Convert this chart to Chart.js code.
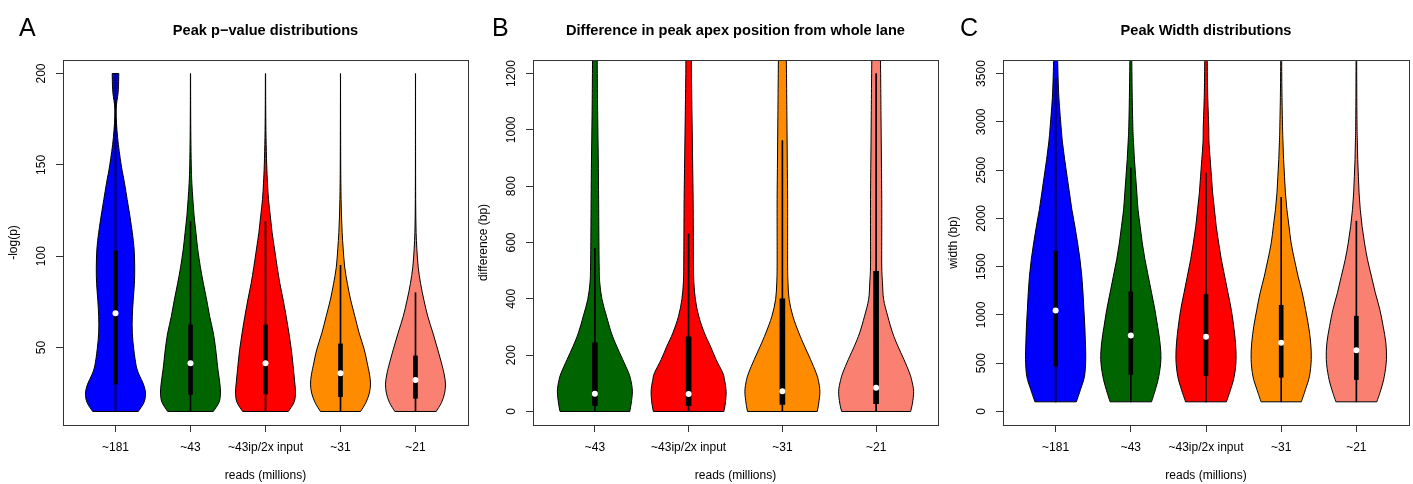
<!DOCTYPE html>
<html lang="en">
<head>
<meta charset="UTF-8">
<title>Peak distributions</title>
<script src="https://cdn.jsdelivr.net/npm/chart.js"></script>
<style>
  body { margin: 0; background: #fff; }
  canvas { position: absolute; top: 0; }
</style>
</head>
<body>
<canvas id="chartA" width="472" height="484" style="left:0px"></canvas>
<canvas id="chartB" width="472" height="484" style="left:470px"></canvas>
<canvas id="chartC" width="473" height="484" style="left:940px"></canvas>

<script>
// ---- panel A: peak p-value ----
var catsA = ['~181', '~43', '~43ip/2x input', '~31', '~21'];
var levelsA = [15, 20, 25, 30, 35, 40, 49, 58, 67, 76, 85, 94, 104, 113, 122, 131, 140, 150, 165, 180, 190, 200];
var violinsA = [
  [0.76, 0.95, 1.0, 0.93, 0.79, 0.69, 0.61, 0.56, 0.56, 0.59, 0.63, 0.64, 0.62, 0.56, 0.48, 0.39, 0.30, 0.19, 0.07, 0.02, 0.09, 0.11],
  [0.76, 0.95, 1.0, 0.98, 0.94, 0.90, 0.84, 0.76, 0.64, 0.54, 0.43, 0.33, 0.24, 0.18, 0.12, 0.08, 0.045, 0.025, 0.012, 0.006, 0.004, 0.003],
  [0.76, 0.95, 1.0, 0.98, 0.95, 0.92, 0.86, 0.78, 0.69, 0.59, 0.48, 0.39, 0.30, 0.22, 0.16, 0.10, 0.067, 0.04, 0.018, 0.008, 0.005, 0.004],
  [0.67, 0.85, 0.96, 1.0, 0.97, 0.91, 0.79, 0.62, 0.48, 0.34, 0.23, 0.14, 0.09, 0.055, 0.033, 0.02, 0.012, 0.008, 0.005, 0.003, 0.002, 0.002],
  [0.69, 0.87, 0.97, 1.0, 0.96, 0.89, 0.74, 0.58, 0.41, 0.28, 0.17, 0.09, 0.045, 0.02, 0.01, 0.006, 0.004, 0.003, 0.002, 0.002, 0.002, 0.002]
];
var q1A = [30, 24.4, 24.6, 23.1, 22.2];
var medA = [68.8, 41.4, 41.4, 35.9, 32.2];
var q3A = [103, 62.4, 62.4, 52, 45.4];
var loA = [15, 15, 15, 15, 15];
var hiA = [200, 119, 119, 95, 80];
var yTicksA = [50, 100, 150, 200];
var yLimA = [15, 200];

// ---- panel B: apex position difference ----
var catsB = ['~43', '~43ip/2x input', '~31', '~21'];
var levelsB = [0, 30, 72, 110, 137, 185, 232, 279, 338, 398, 457, 516, 634, 753, 900, 1050, 1200, 1300];
var violinsB = [
  [0.93, 0.97, 1.0, 0.96, 0.90, 0.74, 0.58, 0.44, 0.31, 0.19, 0.13, 0.115, 0.106, 0.10, 0.09, 0.075, 0.065, 0.06],
  [0.94, 0.98, 1.0, 0.96, 0.91, 0.73, 0.58, 0.42, 0.27, 0.18, 0.14, 0.13, 0.125, 0.12, 0.105, 0.09, 0.075, 0.07],
  [0.93, 0.97, 1.0, 0.96, 0.90, 0.75, 0.59, 0.44, 0.28, 0.18, 0.15, 0.14, 0.14, 0.14, 0.13, 0.12, 0.11, 0.10],
  [0.92, 0.97, 1.0, 0.95, 0.89, 0.74, 0.58, 0.44, 0.31, 0.20, 0.17, 0.15, 0.15, 0.15, 0.14, 0.13, 0.12, 0.11]
];
var q1B = [21, 21, 25, 28];
var medB = [63, 62, 72, 84];
var q3B = [244, 265, 400, 498];
var loB = [0, 0, 0, 0];
var hiB = [579, 631, 962, 1200];
var yTicksB = [0, 200, 400, 600, 800, 1000, 1200];
var yLimB = [0, 1200];

// ---- panel C: peak width ----
var catsC = ['~181', '~43', '~43ip/2x input', '~31', '~21'];
var levelsC = [100, 230, 365, 538, 711, 883, 1056, 1229, 1401, 1574, 1746, 1918, 2091, 2264, 2436, 2609, 2782, 2954, 3299, 3700];
var violinsC = [
  [0.69, 0.83, 0.96, 1.0, 0.99, 0.97, 0.94, 0.91, 0.87, 0.81, 0.73, 0.64, 0.54, 0.46, 0.38, 0.30, 0.23, 0.18, 0.10, 0.062],
  [0.69, 0.82, 0.93, 1.0, 0.97, 0.89, 0.80, 0.69, 0.58, 0.47, 0.38, 0.31, 0.24, 0.20, 0.16, 0.12, 0.09, 0.067, 0.045, 0.03],
  [0.68, 0.82, 0.94, 1.0, 0.98, 0.92, 0.84, 0.73, 0.62, 0.51, 0.42, 0.34, 0.28, 0.22, 0.18, 0.14, 0.10, 0.09, 0.055, 0.04],
  [0.67, 0.81, 0.94, 1.0, 0.98, 0.91, 0.81, 0.70, 0.56, 0.44, 0.33, 0.26, 0.19, 0.14, 0.11, 0.08, 0.06, 0.045, 0.025, 0.014],
  [0.68, 0.82, 0.93, 1.0, 0.98, 0.89, 0.78, 0.63, 0.50, 0.37, 0.27, 0.19, 0.13, 0.09, 0.067, 0.045, 0.033, 0.022, 0.014, 0.01]
];
var q1C = [469, 383, 373, 355, 331];
var medC = [1046, 787, 773, 711, 635];
var q3C = [1659, 1239, 1211, 1100, 987];
var loC = [100, 100, 100, 100, 100];
var hiC = [3444, 2523, 2468, 2217, 1971];
var yTicksC = [0, 500, 1000, 1500, 2000, 2500, 3000, 3500];
var yLimC = [0, 3500];

var colors5 = ['#0000FF', '#006400', '#FF0000', '#FF8C00', '#FA8072'];
var colors4 = ['#006400', '#FF0000', '#FF8C00', '#FA8072'];

Chart.defaults.font.family = '"Liberation Sans", Arial, Helvetica, sans-serif';
Chart.defaults.color = '#000';

// catmull-rom through the outline points
function smooth(ctx, pts) {
  for (var k = 0; k < pts.length - 1; k++) {
    var p0 = pts[k - 1] || pts[k], p1 = pts[k], p2 = pts[k + 1], p3 = pts[k + 2] || p2;
    ctx.bezierCurveTo(p1[0] + (p2[0] - p0[0]) / 6, p1[1] + (p2[1] - p0[1]) / 6,
                      p2[0] - (p3[0] - p1[0]) / 6, p2[1] - (p3[1] - p1[1]) / 6, p2[0], p2[1]);
  }
}

function violinPlugin(p) {
  return {
    id: 'violins',
    beforeDatasetsDraw: function(chart) {
      var xs = chart.scales.x, ys = chart.scales.y, a = chart.chartArea, ctx = chart.ctx;
      ctx.save();
      ctx.beginPath();
      ctx.rect(a.left, a.top, a.right - a.left, a.bottom - a.top);
      ctx.clip();
      p.violins.forEach(function(w, i) {
        var left = [], right = [];
        p.levels.forEach(function(v, j) {
          var py = ys.getPixelForValue(v);
          left.push([xs.getPixelForValue(i + 1 - 0.4 * w[j]), py]);
          right.push([xs.getPixelForValue(i + 1 + 0.4 * w[j]), py]);
        });
        right.reverse();
        ctx.beginPath();
        ctx.moveTo(left[0][0], left[0][1]);
        smooth(ctx, left);
        ctx.lineTo(right[0][0], right[0][1]);
        smooth(ctx, right);
        ctx.closePath();
        ctx.fillStyle = p.colors[i];
        ctx.fill();
        ctx.lineWidth = 1;
        ctx.strokeStyle = '#000';
        ctx.stroke();
      });
      ctx.restore();
    },
    afterDraw: function(chart) {
      var ys = chart.scales.y, a = chart.chartArea, ctx = chart.ctx;
      ctx.save();
      // frame
      ctx.strokeStyle = '#333';
      ctx.lineWidth = 1;
      ctx.strokeRect(a.left + 0.5, a.top + 0.5, a.right - a.left, a.bottom - a.top);
      // y tick labels, parallel to the axis as in R
      ctx.fillStyle = '#000';
      ctx.font = '12px "Liberation Sans", Arial, sans-serif';
      ctx.textAlign = 'center';
      ctx.textBaseline = 'middle';
      p.yTicks.forEach(function(t) {
        ctx.save();
        ctx.translate(a.left - 21.5, ys.getPixelForValue(t));
        ctx.rotate(-Math.PI / 2);
        ctx.fillText(String(t), 0, 0);
        ctx.restore();
      });
      // panel letter
      ctx.font = '25px "Liberation Sans", Arial, sans-serif';
      ctx.textAlign = 'left';
      ctx.textBaseline = 'alphabetic';
      ctx.fillText(p.letter, p.letterX, 36);
      ctx.restore();
    }
  };
}

function drawPanel(id, p) {
  var n = p.cats.length;
  var xPad = 0.04 * n;
  var yPad = 0.04 * (p.yLim[1] - p.yLim[0]);
  var xs = p.cats.map(function(c, i) { return i + 1; });

  new Chart(document.getElementById(id), {
    type: 'bar',
    data: {
      datasets: [{
        type: 'scatter',
        data: xs.map(function(x, i) { return {x: x, y: p.med[i]}; }),
        pointRadius: 3,
        backgroundColor: '#fff',
        pointBackgroundColor: '#fff',
        borderWidth: 0,
        pointBorderWidth: 0,
        order: 1
      }, {
        data: xs.map(function(x, i) { return {x: x, y: [p.q1[i], p.q3[i]]}; }),
        backgroundColor: '#000',
        barThickness: p.boxWidth,
        grouped: false,
        order: 2
      }, {
        data: xs.map(function(x, i) { return {x: x, y: [p.lo[i], p.hi[i]]}; }),
        backgroundColor: '#000',
        barThickness: 1,
        grouped: false,
        order: 3
      }]
    },
    options: {
      responsive: false,
      animation: false,
      events: [],
      layout: { padding: { left: 0, right: p.padRight, top: 0, bottom: 0 } },
      plugins: {
        legend: { display: false },
        tooltip: { enabled: false },
        title: {
          display: true,
          text: p.title,
          fullSize: false,
          color: '#000',
          font: { size: 14.6, weight: 'bold' },
          padding: { top: 22.2, bottom: 20.3 }
        }
      },
      scales: {
        x: {
          type: 'linear',
          offset: false,
          bounds: 'data',
          min: 0.5 - xPad,
          max: n + 0.5 + xPad,
          afterBuildTicks: function(s) { s.ticks = xs.map(function(v) { return {value: v}; }); },
          afterFit: function(s) { s.height = 59; },
          ticks: {
            autoSkip: false,
            maxRotation: 0,
            minRotation: 0,
            padding: 8,
            color: '#000',
            font: { size: 12 },
            callback: function(v) { return p.cats[v - 1]; }
          },
          grid: { drawOnChartArea: false, drawTicks: true, tickLength: 7, color: '#333', offset: false },
          border: { display: false },
          title: { display: true, text: 'reads (millions)', color: '#000', font: { size: 12 }, padding: { top: 0, bottom: 1 } }
        },
        y: {
          type: 'linear',
          bounds: 'data',
          min: p.yLim[0] - yPad,
          max: p.yLim[1] + yPad,
          afterBuildTicks: function(s) { s.ticks = p.yTicks.map(function(v) { return {value: v}; }); },
          afterFit: function(s) { s.width = 63; },
          ticks: { display: false },
          grid: { drawOnChartArea: false, drawTicks: true, tickLength: 7, color: '#333' },
          border: { display: false },
          title: { display: true, text: p.yTitle, color: '#000', font: { size: 12 }, padding: { top: 6, bottom: 0 } }
        }
      }
    },
    plugins: [violinPlugin(p)]
  });
}

drawPanel('chartA', {
  cats: catsA, levels: levelsA, violins: violinsA, q1: q1A, med: medA, q3: q3A, lo: loA, hi: hiA,
  yTicks: yTicksA, yLim: yLimA, colors: colors5,
  title: 'Peak p\u2212value distributions', yTitle: '-log(p)', letter: 'A', letterX: 19,
  boxWidth: 4, padRight: 2
});
drawPanel('chartB', {
  cats: catsB, levels: levelsB, violins: violinsB, q1: q1B, med: medB, q3: q3B, lo: loB, hi: hiB,
  yTicks: yTicksB, yLim: yLimB, colors: colors4,
  title: 'Difference in peak apex position from whole lane', yTitle: 'difference (bp)', letter: 'B', letterX: 22,
  boxWidth: 5, padRight: 3
});
drawPanel('chartC', {
  cats: catsC, levels: levelsC, violins: violinsC, q1: q1C, med: medC, q3: q3C, lo: loC, hi: hiC,
  yTicks: yTicksC, yLim: yLimC, colors: colors5,
  title: 'Peak Width distributions', yTitle: 'width (bp)', letter: 'C', letterX: 20,
  boxWidth: 4, padRight: 4
});
</script>
</body>
</html>
